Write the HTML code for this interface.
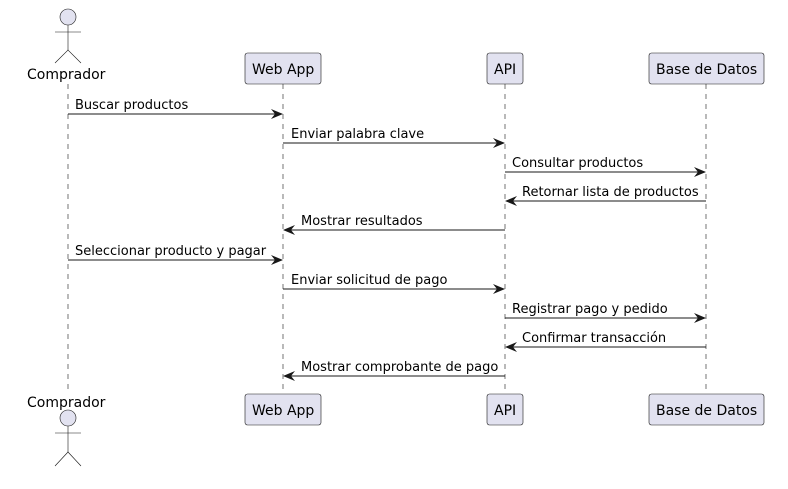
<!DOCTYPE html>
<html><head><meta charset="utf-8"><style>
html,body{margin:0;padding:0;background:#fff;}
svg{display:block;}
text{font-family:"DejaVu Sans","Liberation Sans",sans-serif;font-size:13px;fill:#000;}
</style></head><body>
<svg width="788" height="489" viewBox="0 0 788 489" xmlns="http://www.w3.org/2000/svg">
<defs>
<marker id="a" viewBox="0 0 12 10" refX="11" refY="5" markerWidth="12" markerHeight="10" markerUnits="userSpaceOnUse" orient="auto">
<path d="M0,0 L12,5 L0,10 L4,5 Z" fill="#181818"/>
</marker>
</defs>
<g stroke="#181818" stroke-width="0.6" stroke-dasharray="5,5">
<line x1="68" y1="84" x2="68" y2="394"/>
<line x1="283" y1="84" x2="283" y2="394"/>
<line x1="505" y1="84" x2="505" y2="394"/>
<line x1="706" y1="84" x2="706" y2="394"/>
</g>
<g stroke="#181818" stroke-width="0.6" fill="none">
<circle cx="68" cy="17" r="8" fill="#E2E2F0"/>
<line x1="68" y1="25" x2="68" y2="50"/>
<line x1="55" y1="32" x2="81" y2="32"/>
<polyline points="55,63 68,50 81,63"/>
<circle cx="68" cy="418" r="8" fill="#E2E2F0"/>
<line x1="68" y1="426" x2="68" y2="452"/>
<line x1="55" y1="433" x2="81" y2="433"/>
<polyline points="55,466 68,452 81,466"/>
</g>
<text x="27" y="79" style="font-size:14px">Comprador</text>
<text x="27" y="407" style="font-size:14px">Comprador</text>
<g fill="#E2E2F0" stroke="#181818" stroke-width="0.6">
<rect x="245" y="53" width="76" height="31" rx="2.5"/>
<rect x="487" y="53" width="36" height="31" rx="2.5"/>
<rect x="649" y="53" width="115" height="31" rx="2.5"/>
<rect x="245" y="394" width="76" height="31" rx="2.5"/>
<rect x="487" y="394" width="36" height="31" rx="2.5"/>
<rect x="649" y="394" width="115" height="31" rx="2.5"/>
</g>
<text x="252" y="74" style="font-size:14px">Web App</text>
<text x="494" y="74" style="font-size:14px">API</text>
<text x="656" y="74" style="font-size:14px">Base de Datos</text>
<text x="252" y="415" style="font-size:14px">Web App</text>
<text x="494" y="415" style="font-size:14px">API</text>
<text x="656" y="415" style="font-size:14px">Base de Datos</text>
<g stroke="#181818" stroke-width="1" marker-end="url(#a)">
<line x1="68" y1="114" x2="282" y2="114"/>
<line x1="283" y1="143" x2="504" y2="143"/>
<line x1="505" y1="172" x2="705" y2="172"/>
<line x1="706" y1="201" x2="506" y2="201"/>
<line x1="505" y1="230" x2="284" y2="230"/>
<line x1="68" y1="260" x2="282" y2="260"/>
<line x1="283" y1="289" x2="504" y2="289"/>
<line x1="505" y1="318" x2="705" y2="318"/>
<line x1="706" y1="347" x2="506" y2="347"/>
<line x1="505" y1="376" x2="284" y2="376"/>
</g>
<text x="75" y="109">Buscar productos</text>
<text x="291" y="138">Enviar palabra clave</text>
<text x="512" y="167">Consultar productos</text>
<text x="522" y="196">Retornar lista de productos</text>
<text x="301" y="225">Mostrar resultados</text>
<text x="75" y="255">Seleccionar producto y pagar</text>
<text x="291" y="284">Enviar solicitud de pago</text>
<text x="512" y="313">Registrar pago y pedido</text>
<text x="522" y="342">Confirmar transacción</text>
<text x="301" y="371">Mostrar comprobante de pago</text>
</svg>
</body></html>
